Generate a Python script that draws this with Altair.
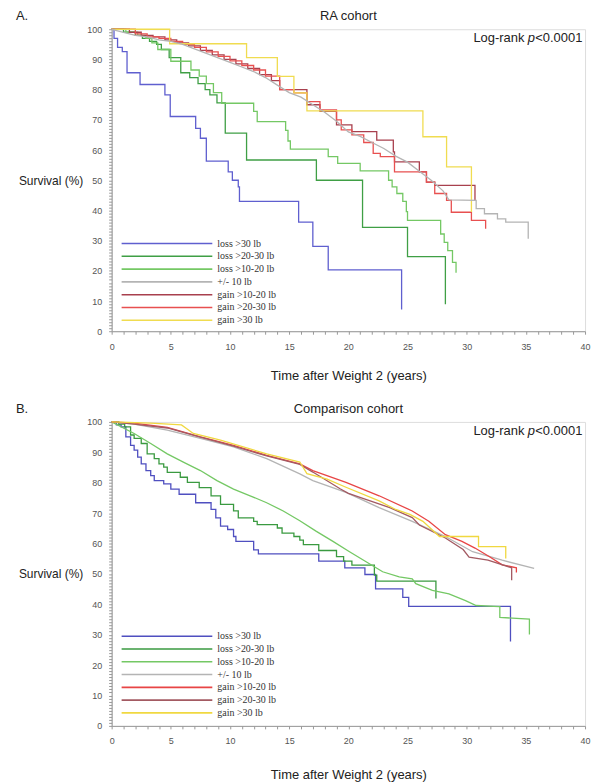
import altair as alt
import pandas as pd

GROUPS = ["loss >30 lb", "loss >20-30 lb", "loss >10-20 lb", "+/- 10 lb",
          "gain >10-20 lb", "gain >20-30 lb", "gain >30 lb"]
COLORS_A = ["#5f5fcf", "#3f9f45", "#74c864", "#b4b4b4", "#a8404e", "#e85050", "#f0dc50"]
COLORS_B = ["#4f4fc0", "#3a9a40", "#74c864", "#b4b4b4", "#e84545", "#a35a62", "#f0d840"]

X_TICKS = [i * 0.5 for i in range(81)]
Y_TICKS = list(range(0, 101))

# ---------------- Panel A: RA cohort ----------------
A_L30_T = [0, 0.2, 0.5, 0.9, 1.3, 2.4, 4.5, 4.95, 7.1, 7.5, 8.0, 9.85, 10.2, 10.7, 10.8, 15.8, 17.0, 18.3, 24.5]
A_L30_S = [100, 97, 94, 92.6, 85.6, 81.7, 78.3, 71.1, 67.2, 63.9, 56.3, 52.8, 50.0, 47.8, 43.0, 36.1, 28.1, 20.3, 7.2]

A_L2030_T = [0, 1.0, 2.0, 2.6, 3.2, 3.8, 4.2, 4.86, 5.84, 6.6, 7.3, 7.9, 8.3, 8.9, 9.6, 11.4, 17.3, 21.2, 25.0, 28.2]
A_L2030_S = [100, 99, 98, 97, 96, 95, 93.3, 90.6, 85.6, 84, 82, 80, 78.3, 75.6, 65.6, 56.7, 50, 34.4, 24.7, 8.9]

A_L1020_T = [0, 1.2, 2.2, 2.9, 3.4, 3.9, 5.0, 6.7, 7.4, 8.0, 8.6, 9.3, 12.0, 12.3, 14.7, 14.9, 15.1, 18.3, 19.1,
             21.0, 23.4, 23.7, 24.1, 24.6, 24.9, 25.0, 27.8, 28.1, 28.4, 28.8, 29.1]
A_L1020_S = [100, 99, 98, 97, 95.5, 93.3, 89.4, 86.5, 84.5, 82, 79, 75.5, 72.8, 69.4, 66.5, 63, 60.3, 57.8, 55.6,
             53.1, 50, 47.8, 45.6, 43, 39.6, 36.7, 32.2, 29.4, 26.7, 22.8, 19.4]

A_PM10_T = [0, 0.5, 1, 2, 3, 4, 5, 6, 7, 8, 9, 10, 11, 12, 13, 14, 15, 16, 17, 18, 19, 20, 21, 22, 23, 24, 25, 26,
            27, 28, 28.5, 30.8, 30.8, 31.5, 31.5, 32.6, 32.6, 33.3, 33.3, 35.2, 35.2]
A_PM10_S = [100, 99.5, 99, 98, 97.5, 96.5, 96, 95, 93.5, 92, 90.5, 89, 87.5, 86, 84, 81.5, 79, 77.5, 75, 72.5, 69.5,
            66, 64.5, 62.5, 60.5, 58, 56, 53, 50, 46.5, 43.5, 43.3, 40.6, 40.6, 38.9, 38.9, 37.2, 37.2, 36.1, 36.1, 30.6]

A_G1020_T = [0, 1.5, 2.5, 3.5, 4.5, 5.5, 6.5, 7.5, 8.5, 9.5, 10.5, 11.5, 12.5, 13.5, 14.2, 16.5, 17.6, 19.0, 20.3,
             22.4, 23.8, 23.9, 26.0, 26.6, 27.3, 30.7]
A_G1020_S = [100, 99, 98, 97.5, 96.5, 95.5, 94.5, 93, 91.5, 90, 88.5, 87, 85, 83, 80, 75, 72.8, 68.3, 66.1,
             63.3, 59.4, 56.1, 52.8, 49.4, 48.3, 43.3]

A_G2030_T = [0, 2, 3, 4, 5, 6, 7, 8, 9, 10, 11, 12, 13, 14.2, 15.4, 16.5, 17.6, 19.0, 19.4, 20.3, 21.3, 22.1, 22.7,
             23.9, 26.6, 27.3, 28.3, 28.7, 30.4, 31.6]
A_G2030_S = [100, 98.5, 97.5, 97, 96, 95, 94, 92.5, 91, 89.5, 88, 86.5, 84.5, 80, 78.9, 76, 73.3, 70, 66.7, 65, 62.5,
             58.9, 57.8, 52.8, 49.4, 45.6, 43.3, 39.4, 36.7, 33.9]

A_G30_T = [0, 4.9, 11.4, 14.0, 15.4, 16.5, 26.3, 28.3, 30.4]
A_G30_S = [100, 95.2, 90.6, 84.4, 78.9, 73, 64.4, 54.4, 39.5]

# ---------------- Panel B: Comparison cohort ----------------
B_L30_T = [0, 0.4, 0.8, 1.2, 1.6, 1.9, 2.2, 2.5, 2.9, 3.3, 3.6, 4.4, 5.0, 5.7, 7.1, 8.4, 8.8, 9.2, 9.8, 10.3,
           10.5, 12.0, 12.4, 17.5, 19.7, 21.4, 22.3, 24.6, 25.1, 33.7]
B_L30_S = [100, 99, 98.4, 95.1, 92.3, 90.7, 88.4, 86.2, 84, 82.3, 80.7, 79.6, 77.9, 76.2, 73.4, 71.2, 68.4, 65.7,
           64.6, 62.3, 60.7, 57.9, 56.6, 54.2, 52, 49.8, 45.1, 42.3, 39.3, 27.8]

B_L2030_T = [0, 0.6, 1.1, 1.6, 1.9, 2.5, 3.0, 3.6, 4.0, 4.4, 4.7, 5.8, 6.4, 7.4, 8.4, 9.2, 10.3, 10.7, 12.0, 12.3,
             14.0, 14.4, 15.4, 15.9, 16.2, 17.5, 19.0, 19.6, 20.3, 22.2, 22.4, 27.4]
B_L2030_S = [100, 99.3, 98.4, 95.7, 94.6, 92.9, 89.5, 87.9, 86.2, 85.1, 83.4, 81.8, 80.1, 78.4, 75.7, 72.9, 70.7,
             68.4, 67.3, 66.2, 65.1, 63.4, 62.3, 61.1, 59.6, 57.7, 55.7, 54.2, 52.9, 49.6, 47.6, 41.9]

B_L1020_T = [0, 1.9, 3.3, 4.7, 6.1, 7.5, 8.9, 10.3, 11.7, 13.1, 14.5, 15.9, 17.3, 18.7, 20.1, 21.5, 22.9, 24.3,
             25.4, 25.7, 27.1, 28.5, 29.9, 30.8, 32.8, 32.8, 35.3, 35.3]
B_L1020_S = [100, 96.2, 92.9, 89.5, 86.7, 84, 80.7, 77.9, 75.7, 73.4, 70.7, 67.5, 64, 60.7, 57.3, 54, 50.7, 49,
             48.4, 46.8, 44.6, 43.4, 41.2, 39.6, 39.2, 35.7, 35.1, 30.1]

B_PM10_T = [0, 1.9, 4.7, 7.5, 10.3, 13.1, 15.9, 17.0, 19.8, 22.6, 25.4, 28.2, 30.5, 33.0, 35.7]
B_PM10_S = [100, 99.3, 97.3, 94.6, 91.8, 87.9, 82.9, 80.7, 76.8, 71.8, 67.3, 62.3, 57.3, 54.5, 51.8]

B_G1020_T = [0, 1.9, 4.7, 7.5, 10.3, 13.1, 15.9, 17.0, 19.8, 22.6, 25.4, 26.8, 28.2, 29.6, 30.7, 32.0, 33.0, 34.2, 34.2]
B_G1020_S = [100, 99.6, 98.2, 95.1, 92.3, 89, 86.2, 84, 80.1, 75.7, 70.7, 67.3, 62.9, 60.7, 58.5, 55.5, 53, 52, 50.5]

B_G2030_T = [0, 1.9, 4.7, 7.5, 10.3, 13.1, 15.9, 17.0, 19.3, 20.0, 23.5, 25.4, 26.0, 28.2, 29.7, 30.2, 31.8, 33.8, 33.8]
B_G2030_S = [100, 99.3, 98, 95, 92, 88.8, 86, 83.5, 78, 76.5, 71.8, 68.5, 66.1, 61.8, 58, 55.5, 54.5, 52, 47.9]

B_G30_T = [0, 3.3, 5.9, 6.9, 9.2, 13.1, 15.9, 16.5, 18.2, 19.8, 22.6, 24.0, 25.2, 26.3, 27.7, 31.0, 31.0, 33.3, 33.3]
B_G30_S = [100, 99.6, 99, 96.2, 94, 89.5, 86.8, 83, 81.2, 78.5, 74, 71.2, 69.6, 67.3, 62.3, 62.3, 59, 59, 55.1]

SERIES_A = [
    (GROUPS[0], A_L30_T, A_L30_S, "step"),
    (GROUPS[1], A_L2030_T, A_L2030_S, "step"),
    (GROUPS[2], A_L1020_T, A_L1020_S, "step"),
    (GROUPS[3], A_PM10_T, A_PM10_S, "linear"),
    (GROUPS[4], A_G1020_T, A_G1020_S, "step"),
    (GROUPS[5], A_G2030_T, A_G2030_S, "step"),
    (GROUPS[6], A_G30_T, A_G30_S, "step"),
]
SERIES_B = [
    (GROUPS[0], B_L30_T, B_L30_S, "step"),
    (GROUPS[1], B_L2030_T, B_L2030_S, "step"),
    (GROUPS[2], B_L1020_T, B_L1020_S, "linear"),
    (GROUPS[3], B_PM10_T, B_PM10_S, "linear"),
    (GROUPS[4], B_G1020_T, B_G1020_S, "linear"),
    (GROUPS[5], B_G2030_T, B_G2030_S, "linear"),
    (GROUPS[6], B_G30_T, B_G30_S, "linear"),
]

FONT = "Liberation Sans"
W = 475


def build(series):
    rows = []
    for g, ts, ss, interp in series:
        for i, (t, s) in enumerate(zip(ts, ss)):
            rows.append({"group": g, "t": t, "s": s, "idx": i, "interp": interp})
    return pd.DataFrame(rows)


def text_layer(txt, x, y, size=13, style="normal", align="left"):
    return alt.Chart(pd.DataFrame({"txt": [txt]})).mark_text(
        align=align, baseline="middle", font=FONT, fontSize=size, fontStyle=style, color="#222"
    ).encode(x=alt.value(x), y=alt.value(y), text="txt:N")


def panel(series, colors, title, letter, height, xtitle_pad):
    df = build(series)
    color = alt.Color("group:N", scale=alt.Scale(domain=GROUPS, range=colors), legend=None)
    x = alt.X("t:Q", scale=alt.Scale(domain=[0, 40], nice=False, zero=False),
              axis=alt.Axis(values=X_TICKS, format="d",
                            labelExpr="datum.value % 5 === 0 ? datum.label : ''",
                            tickSize=3, labelPadding=8, labelFlush=False, labelOverlap=False,
                            labelFont=FONT, labelFontSize=9, labelColor="#555", tickColor="#999",
                            domainColor="#999", grid=False, title="Time after Weight 2 (years)",
                            titleFont=FONT, titleFontSize=13, titleFontWeight="normal",
                            titleColor="#222", titlePadding=xtitle_pad))
    y = alt.Y("s:Q", scale=alt.Scale(domain=[0, 100], nice=False),
              axis=alt.Axis(values=Y_TICKS, format="d",
                            labelExpr="datum.value % 10 === 0 ? datum.label : ''",
                            tickSize=3, labelPadding=7, labelFlush=False, labelOverlap=False,
                            labelFont=FONT, labelFontSize=9, labelColor="#555", tickColor="#999",
                            domainColor="#999", grid=False, title="Survival (%)",
                            titleFont=FONT, titleFontSize=12, titleFontWeight="normal", titleColor="#222",
                            titleAngle=0, titleAlign="right", titleBaseline="middle",
                            titleX=-29, titleY=152))
    step = alt.Chart(df[df["interp"] == "step"]).mark_line(
        interpolate="step-after", strokeWidth=1.3).encode(x=x, y=y, color=color, detail="group:N",
                                                          order="idx:Q")
    smooth = alt.Chart(df[df["interp"] == "linear"]).mark_line(
        strokeWidth=1.3).encode(x=x, y=y, color=color, detail="group:N", order="idx:Q")
    curves = alt.layer(step, smooth)

    leg = pd.DataFrame({"group": GROUPS})
    leg_y = alt.Y("group:N", sort=GROUPS, scale=alt.Scale(type="point", range=[215, 292], padding=0),
                  axis=None)
    leg_rules = alt.Chart(leg).mark_rule(strokeWidth=1.6).encode(
        y=leg_y, x=alt.value(10), x2=alt.value(101), color=color)
    leg_text = alt.Chart(leg).mark_text(
        align="left", baseline="middle", font="Liberation Serif", fontSize=10, color="#333"
    ).encode(y=leg_y, x=alt.value(106), text="group:N")

    texts = [
        text_layer("Log-rank", 363, 9),
        text_layer("p", 417.5, 9, style="italic"),
        text_layer("<0.0001", 425, 9),
        text_layer(title, W / 2, -13, align="center"),
        text_layer(letter, -96, -13),
    ]
    return alt.layer(curves, leg_rules, leg_text, *texts).resolve_scale(y="independent").properties(
        width=W, height=height)


pa = panel(SERIES_A, COLORS_A, "RA cohort", "A.", 303, 18)
pb = panel(SERIES_B, COLORS_B, "Comparison cohort", "B.", 305, 23)

chart = alt.vconcat(pa, pb, spacing=19).resolve_scale(color="independent").properties(
    padding={"left": 7, "top": 0, "right": 5, "bottom": 0}
).configure_view(stroke="#999", strokeWidth=1).configure(background="white")

chart.save("out.html", embed_options={"renderer": "svg", "actions": False})
